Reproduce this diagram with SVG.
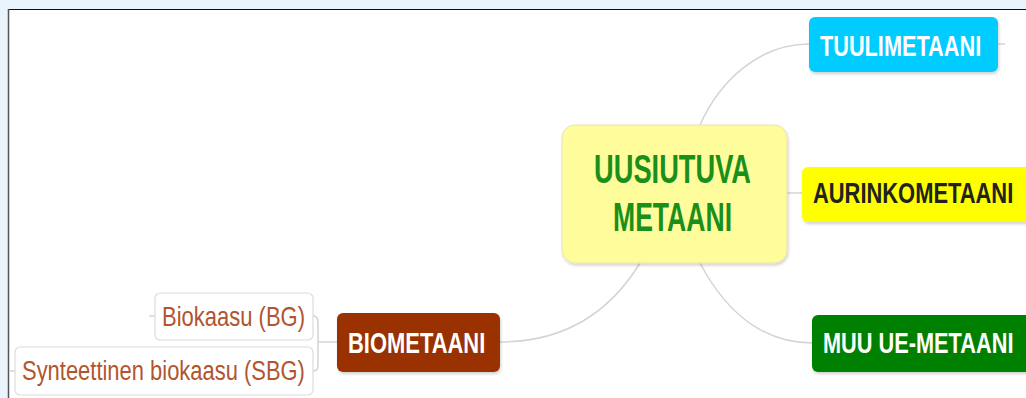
<svg xmlns="http://www.w3.org/2000/svg" width="1026" height="398" viewBox="0 0 1026 398">
<defs>
<filter id="sh" x="-10%" y="-10%" width="120%" height="130%">
<feDropShadow dx="1" dy="2" stdDeviation="1.5" flood-color="#000" flood-opacity="0.18"/>
</filter>
</defs>
<style>
.lbl{font-family:"Liberation Sans",Arial,sans-serif;font-weight:bold;}
.sub{font-family:"Liberation Sans",Arial,sans-serif;font-size:28px;fill:#b0552f;}
.con{fill:none;stroke:#d4d4d4;stroke-width:1.5;}
.subbox{fill:#fff;stroke:#dcdcdc;stroke-width:1.2;}
</style>
<rect x="0" y="0" width="1026" height="398" fill="#eaf4fc"/>
<rect x="8" y="9" width="1018" height="389" fill="#fff"/>
<line x1="8" y1="9.5" x2="1026" y2="9.5" stroke="#111" stroke-width="1"/>
<line x1="8.5" y1="9" x2="8.5" y2="398" stroke="#555" stroke-width="1.5"/>

<g id="connectors">
<path class="con" d="M700,125 C720,80 760,44 809,44"/>
<path class="con" d="M998,44 L1005,44"/>
<path class="con" d="M787,193 L802,193"/>
<path class="con" d="M700,263 C730,320 770,343 812,343"/>
<path class="con" d="M500,342 C565,342 610,312 640,263"/>
<path class="con" d="M313,316 C318,316 318,320 318,325 L318,362 C318,368 318,371 313,371"/>
<path class="con" d="M318,342 L337,342"/>
<path class="con" d="M149,316 L155,316"/>
<path class="con" d="M9,371 L15,371"/>
</g>

<g id="center">
<rect x="562" y="125" width="225" height="138" rx="13" fill="#fffc9c" stroke="#e6e4b0" stroke-width="1" filter="url(#sh)"/>
<text class="lbl" transform="translate(672.5,183) scale(0.665,1)" font-size="41" fill="#1a8f1a" text-anchor="middle">UUSIUTUVA</text>
<text class="lbl" transform="translate(672.5,231) scale(0.648,1)" font-size="41" fill="#1a8f1a" text-anchor="middle">METAANI</text>
</g>

<g id="tuulimetaani">
<rect x="809" y="17" width="189" height="55" rx="6" fill="#00ccff" filter="url(#sh)"/>
<text class="lbl" transform="translate(820,56) scale(0.724,1)" font-size="30" fill="#fff">TUULIMETAANI</text>
</g>

<g id="aurinkometaani">
<rect x="802" y="167" width="232" height="55" rx="6" fill="#ffff00" filter="url(#sh)"/>
<text class="lbl" transform="translate(813,203) scale(0.755,1)" font-size="29" fill="#222">AURINKOMETAANI</text>
</g>

<g id="muu">
<rect x="812" y="315" width="222" height="57" rx="6" fill="#008000" filter="url(#sh)"/>
<text class="lbl" transform="translate(823,353) scale(0.75,1)" font-size="29" fill="#fff">MUU UE-METAANI</text>
</g>

<g id="biometaani">
<rect x="337" y="313" width="163" height="59" rx="6" fill="#993300" filter="url(#sh)"/>
<text class="lbl" transform="translate(348,353) scale(0.757,1)" font-size="29" fill="#fff">BIOMETAANI</text>
</g>

<g id="biokaasu">
<rect class="subbox" x="155" y="293" width="158" height="47" rx="5"/>
<text class="sub" transform="translate(162,326) scale(0.786,1)">Biokaasu (BG)</text>
</g>

<g id="sbg">
<rect class="subbox" x="15" y="347" width="298" height="48" rx="5"/>
<text class="sub" transform="translate(22,380) scale(0.784,1)">Synteettinen biokaasu (SBG)</text>
</g>
</svg>
